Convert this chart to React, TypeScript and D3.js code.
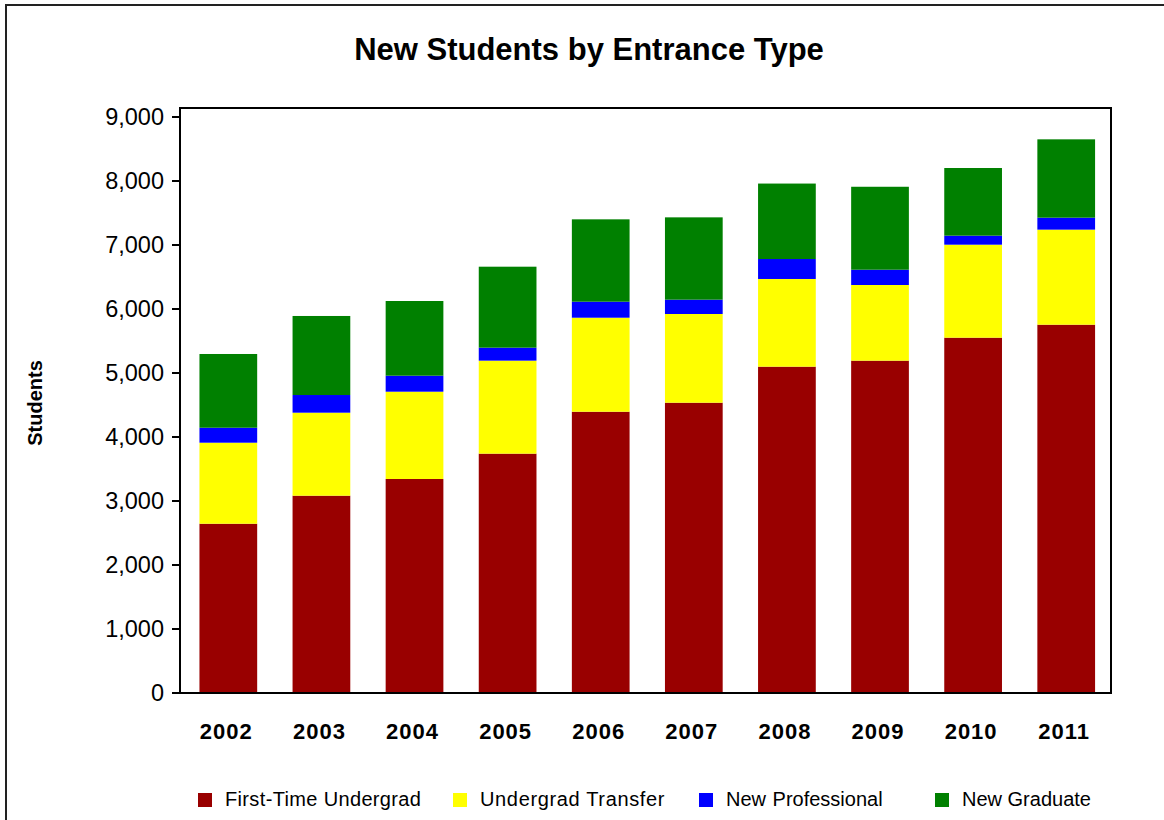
import React from "react";
import * as d3 from "d3";

const years = ["2002", "2003", "2004", "2005", "2006", "2007", "2008", "2009", "2010", "2011"];
const firstTimeUndergrad = [2645, 3083, 3344, 3740, 4395, 4536, 5099, 5193, 5552, 5755];
const undergradTransfer = [1266, 1297, 1364, 1453, 1469, 1386, 1370, 1182, 1453, 1485];
const newProfessional = [234, 276, 250, 203, 250, 224, 312, 239, 141, 187];
const newGraduate = [1152, 1235, 1167, 1265, 1287, 1286, 1179, 1296, 1057, 1224];
const seriesNames = ["First-Time Undergrad", "Undergrad Transfer", "New Professional", "New Graduate"];
const seriesColors = ["#990000", "#FFFF00", "#0000FF", "#008000"];
const yTicks = [0, 1000, 2000, 3000, 4000, 5000, 6000, 7000, 8000, 9000];

const W = 1164;
const H = 820;
const plotLeft = 180;
const plotRight = 1111;
const plotTop = 108;
const plotBottom = 693;
const legendX = [198, 453, 699, 935];
const legendLetterSpacing = [0.35, 0.65, 0, 0];
const legendWordSpacing = [0, 0, 1, 0];
const FONT = "'Liberation Sans', Arial, Helvetica, sans-serif";

export default function App() {
  const keys = ["fu", "ut", "np", "ng"];
  const rows = years.map((y, i) => ({
    year: y,
    fu: firstTimeUndergrad[i],
    ut: undergradTransfer[i],
    np: newProfessional[i],
    ng: newGraduate[i],
  }));
  const stacked = d3.stack<any>().keys(keys)(rows);

  const x = d3
    .scaleBand<string>()
    .domain(years)
    .range([plotLeft, plotRight])
    .paddingInner(0.38)
    .paddingOuter(0.19)
    .align(0.55);
  const y = d3.scaleLinear().domain([0, 9000]).range([plotBottom, 117]);
  const fmt = d3.format(",");

  return (
    <svg
      width={W}
      height={H}
      style={{ position: "absolute", left: 0, top: 0, background: "#fff" }}
      fontFamily={FONT}
    >
      <rect x={0} y={0} width={W} height={H} fill="#fff" />
      <rect x={6} y={5} width={W + 20} height={H + 20} fill="none" stroke="#222" strokeWidth={2} />
      <text x={589} y={60} textAnchor="middle" fontSize={31} fontWeight="bold" fill="#000">
        New Students by Entrance Type
      </text>

      {stacked.map((s, si) => (
        <g key={si} fill={seriesColors[si]}>
          {s.map((d: any, i: number) => (
            <rect
              key={i}
              x={x(years[i])}
              y={y(d[1])}
              width={x.bandwidth()}
              height={y(d[0]) - y(d[1])}
            />
          ))}
        </g>
      ))}

      <rect
        x={plotLeft}
        y={plotTop}
        width={plotRight - plotLeft}
        height={plotBottom - plotTop}
        fill="none"
        stroke="#000"
        strokeWidth={2}
      />

      {yTicks.map((t) => (
        <g key={t}>
          <line x1={172} x2={plotLeft} y1={y(t)} y2={y(t)} stroke="#000" strokeWidth={2} />
          <text x={164} y={y(t)} dy="0.36em" textAnchor="end" fontSize={23.5} fill="#000">
            {fmt(t)}
          </text>
        </g>
      ))}

      {years.map((yr) => (
        <text
          key={yr}
          x={(x(yr) as number) + x.bandwidth() / 2 - 2}
          y={739}
          textAnchor="middle"
          fontSize={22}
          fontWeight="bold"
          letterSpacing={1}
          fill="#000"
        >
          {yr}
        </text>
      ))}

      <text
        transform={`translate(42,403) rotate(-90)`}
        textAnchor="middle"
        fontSize={20}
        fontWeight="bold"
        fill="#000"
      >
        Students
      </text>

      {seriesNames.map((n, i) => (
        <g key={n}>
          <rect x={legendX[i]} y={793} width={14} height={14} fill={seriesColors[i]} />
          <text
            x={legendX[i] + 27}
            y={806}
            fontSize={20}
            fill="#000"
            letterSpacing={legendLetterSpacing[i]}
            wordSpacing={legendWordSpacing[i]}
          >
            {n}
          </text>
        </g>
      ))}
    </svg>
  );
}
